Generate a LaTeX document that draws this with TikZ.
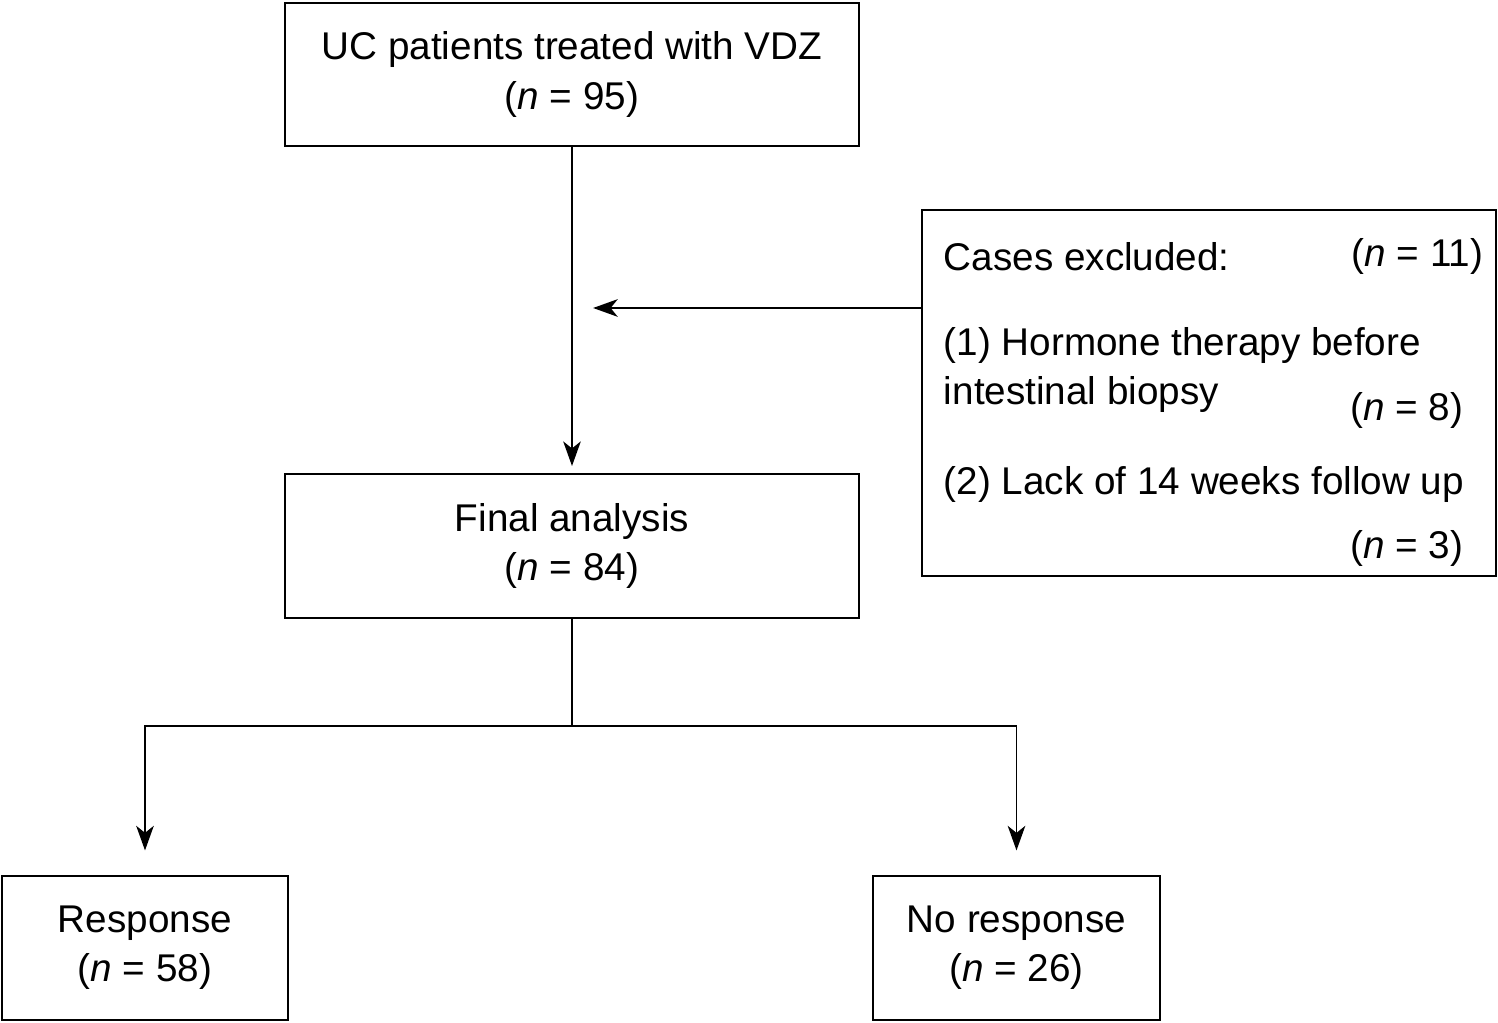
\documentclass[tikz,border=0pt]{standalone}
\usepackage{fontspec}
\setmainfont{Liberation Sans}
\usetikzlibrary{arrows.meta}
\begin{document}
\begin{tikzpicture}[x=0.02cm,y=-0.02cm,line width=1.1pt,
  box/.style={draw,inner sep=0pt,align=center,font=\fontsize{22}{28}\selectfont},
  txt/.style={inner sep=0pt,font=\fontsize{22}{28}\selectfont},
  arr/.style={-{Stealth[length=14pt,width=10pt,inset=4pt]}}]
\useasboundingbox (0,0) rectangle (1498,1023);
% boxes
\node[box,minimum width=574*0.02cm,minimum height=143*0.02cm] (start) at (572,74.5) {UC patients treated with VDZ\\(\textit{n} = 95)};
\node[box,minimum width=574*0.02cm,minimum height=144*0.02cm] (final) at (572,546) {Final analysis\\(\textit{n} = 84)};
\node[box,minimum width=574*0.02cm,minimum height=366*0.02cm] (excl) at (1209,393) {};
\node[box,minimum width=286*0.02cm,minimum height=144*0.02cm] (resp) at (145,948) {Response\\(\textit{n} = 58)};
\node[box,minimum width=287*0.02cm,minimum height=144*0.02cm] (noresp) at (1016.5,948) {No response\\(\textit{n} = 26)};
% exclusion text
\node[txt,anchor=west] (c0) at (943,257) {Cases excluded:};
\node[txt,anchor=east] (n0) at (1484,257) {(\textit{n} = 11)};
\node[txt,anchor=west] (c1) at (943,346) {(1) Hormone therapy before};
\node[txt,anchor=west] (c1b) at (943,395) {intestinal biopsy};
\node[txt,anchor=east] (n1) at (1464,410) {(\textit{n} = 8)};
\node[txt,anchor=west] (c2) at (943,485) {(2) Lack of 14 weeks follow up};
\node[txt,anchor=east] (n2) at (1464,548) {(\textit{n} = 3)};
% connectors
\coordinate (mid) at (572,308);
\coordinate (split) at (572,726);
\draw[arr] (start.south) -- ([yshift=4pt]final.north);
\draw[arr] (excl.west |- mid) -- ([xshift=12]mid);
\draw (final.south) -- (split);
\draw[arr] (split) -| ([yshift=14]resp.north);
\draw[arr] (split) -| ([yshift=14]noresp.north);
\end{tikzpicture}
\end{document}
